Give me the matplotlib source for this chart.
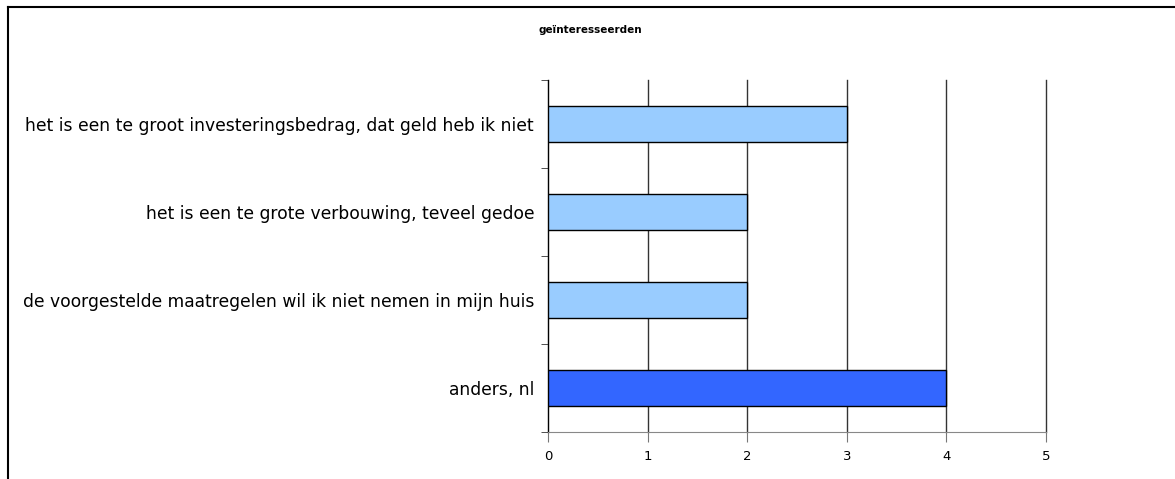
import matplotlib.pyplot as plt
from matplotlib.lines import Line2D

# categories from top to bottom
categories = [
    "het is een te groot investeringsbedrag, dat geld heb ik niet",
    "het is een te grote verbouwing, teveel gedoe",
    "de voorgestelde maatregelen wil ik niet nemen in mijn huis",
    "anders, nl",
]
counts = [3, 2, 2, 4]
colors = ["#99CCFF", "#99CCFF", "#99CCFF", "#3366FF"]
xticks = [0, 1, 2, 3, 4, 5]
title = "geïnteresseerden"

fig = plt.figure(figsize=(11.75, 4.79), dpi=100)
ax = fig.add_axes([548 / 1175, 47 / 479, 498 / 1175, 352 / 479])

ypos = list(range(len(categories)))
ax.barh(ypos, counts, height=0.4, color=colors, edgecolor="black", linewidth=1, zorder=3)

ax.set_ylim(len(categories) - 0.5, -0.5)
ax.set_xlim(0, 5)

ax.set_yticks(ypos)
ax.set_yticklabels(categories, fontsize=12.3)
ax.tick_params(axis="y", which="major", length=0, pad=10)
ax.set_yticks([i - 0.5 for i in range(len(categories) + 1)], minor=True)
ax.tick_params(axis="y", which="minor", length=5, direction="out", color="#333333")

ax.set_xticks(xticks)
ax.tick_params(axis="x", length=7, direction="out", color="#777777", labelsize=9.5, pad=6)
ax.xaxis.grid(True, color="#333333", linewidth=1, zorder=0)
for gl in ax.get_xgridlines():
    gl.set_clip_on(False)

ax.spines["top"].set_visible(False)
ax.spines["right"].set_visible(False)
ax.spines["bottom"].set_color("#888888")
ax.spines["left"].set_color("black")

fig.text(590 / 1175, 1 - 30 / 479, title, fontsize=7.5, fontweight="bold", ha="center", va="center")

# outer frame lines (top and left)
fig.add_artist(Line2D([8 / 1175, 1], [1 - 7 / 479, 1 - 7 / 479], color="black", linewidth=1.5))
fig.add_artist(Line2D([8 / 1175, 8 / 1175], [0, 1 - 7 / 479], color="black", linewidth=1.5))

fig.savefig("out.png", dpi=100)
